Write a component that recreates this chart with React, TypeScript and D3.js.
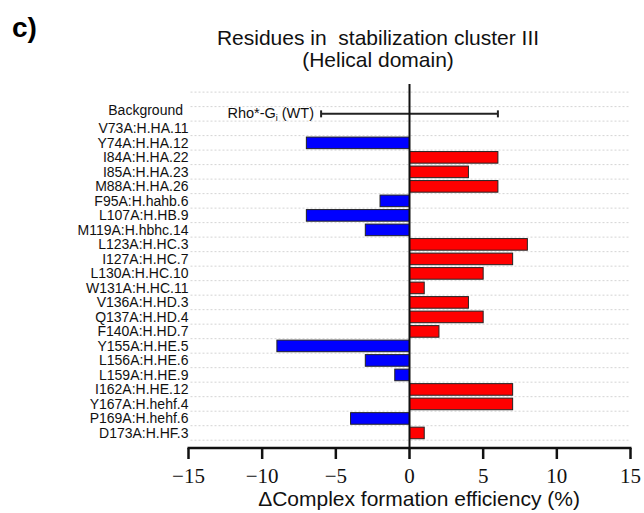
import React from "react";
import * as d3 from "d3";

const categories = [
  "Background",
  "V73A:H.HA.11",
  "Y74A:H.HA.12",
  "I84A:H.HA.22",
  "I85A:H.HA.23",
  "M88A:H.HA.26",
  "F95A:H.hahb.6",
  "L107A:H.HB.9",
  "M119A:H.hbhc.14",
  "L123A:H.HC.3",
  "I127A:H.HC.7",
  "L130A:H.HC.10",
  "W131A:H.HC.11",
  "V136A:H.HD.3",
  "Q137A:H.HD.4",
  "F140A:H.HD.7",
  "Y155A:H.HE.5",
  "L156A:H.HE.6",
  "L159A:H.HE.9",
  "I162A:H.HE.12",
  "Y167A:H.hehf.4",
  "P169A:H.hehf.6",
  "D173A:H.HF.3",
];

const values = [
  null, 0, -7, 6, 4, 6, -2, -7, -3, 8, 7, 5, 1, 4, 5, 2, -9, -3, -1, 7, 7, -4, 1,
];

const backgroundError = 6;
const xTicks = [-15, -10, -5, 0, 5, 10, 15];
const titleLines = ["Residues in  stabilization cluster III", "(Helical domain)"];
const xTitle = "\u0394Complex formation efficiency (%)";

export default function App() {
  const W = 644;
  const H = 513;
  const x = d3.scaleLinear().domain([-15, 15]).range([188.5, 630.5]);
  const y = d3
    .scaleBand<string>()
    .domain(categories)
    .range([106.6, 440.2])
    .paddingInner(0.2)
    .paddingOuter(0.1);
  const step = y.step();
  const gridYs = [y.range()[0] - step, ...categories.map((_, i) => y.range()[0] + i * step), y.range()[1]];
  const axisY = 448;
  const sans = "'Liberation Sans', Arial, Helvetica, sans-serif";
  const serif = "'Liberation Serif', 'Times New Roman', serif";
  const cy = (c: string) => (y(c) as number) + y.bandwidth() / 2;
  const fmt = d3.format("d");

  return (
    <svg
      width={W}
      height={H}
      style={{ position: "absolute", left: 0, top: 0, background: "#fff" }}
    >
      <text x={12} y={37} fontFamily={sans} fontWeight="bold" fontSize={28} fill="#000">
        c)
      </text>
      {titleLines.map((t, i) => (
        <text
          key={i}
          x={378}
          y={45 + i * 21.5}
          textAnchor="middle"
          fontFamily={sans}
          fontSize={21}
          fill="#111"
          style={{ whiteSpace: "pre" }}
        >
          {t}
        </text>
      ))}

      {/* gridlines */}
      {gridYs.map((gy, i) => (
        <line
          key={i}
          x1={x(-15) + 2}
          x2={x(15)}
          y1={gy}
          y2={gy}
          stroke="#d4d4d4"
          strokeWidth={1}
          strokeDasharray="2,2"
        />
      ))}

      {/* labels */}
      {categories.map((c, i) => (
        <text
          key={c}
          x={i === 0 ? 183 : 188.5}
          y={cy(c) + (i === 0 ? -4 : 0)}
          dy="0.36em"
          textAnchor="end"
          fontFamily={sans}
          fontSize={14}
          fill="#111"
        >
          {c}
        </text>
      ))}

      {/* bars */}
      {categories.map((c, i) => {
        const v = values[i];
        if (v === null || v === 0) return null;
        const x0 = x(Math.min(0, v));
        const x1 = x(Math.max(0, v));
        return (
          <rect
            key={c}
            x={x0}
            y={y(c)}
            width={x1 - x0}
            height={y.bandwidth()}
            fill={v > 0 ? "#ff0000" : "#0000ff"}
            stroke="#222"
            strokeWidth={1}
          />
        );
      })}

      {/* background error bar */}
      <line
        x1={x(-backgroundError)}
        x2={x(backgroundError)}
        y1={cy("Background")}
        y2={cy("Background")}
        stroke="#222"
        strokeWidth={2}
      />
      {[-backgroundError, backgroundError].map((v) => (
        <line
          key={v}
          x1={x(v)}
          x2={x(v)}
          y1={cy("Background") - 3.5}
          y2={cy("Background") + 3.5}
          stroke="#222"
          strokeWidth={2}
        />
      ))}
      <text
        x={314}
        y={117.5}
        textAnchor="end"
        fontFamily={sans}
        fontSize={14.5}
        fill="#111"
      >
        Rho*-G
        <tspan fontSize={9} dy={3}>
          i
        </tspan>
        <tspan dy={-3}> (WT)</tspan>
      </text>

      {/* zero line */}
      <line x1={x(0)} x2={x(0)} y1={84} y2={axisY} stroke="#111" strokeWidth={2} />

      {/* x axis */}
      <line x1={x(-15) - 1} x2={x(15) + 1} y1={axisY} y2={axisY} stroke="#111" strokeWidth={2.5} />
      {xTicks.map((t) => (
        <g key={t}>
          <line x1={x(t)} x2={x(t)} y1={axisY} y2={axisY + 11} stroke="#111" strokeWidth={2.5} />
          <text
            x={x(t)}
            y={483}
            textAnchor="middle"
            fontFamily={serif}
            fontSize={21}
            fill="#111"
          >
            {fmt(t)}
          </text>
        </g>
      ))}
      <text x={419} y={506} textAnchor="middle" fontFamily={sans} fontSize={21} fill="#111">
        {xTitle}
      </text>
    </svg>
  );
}
